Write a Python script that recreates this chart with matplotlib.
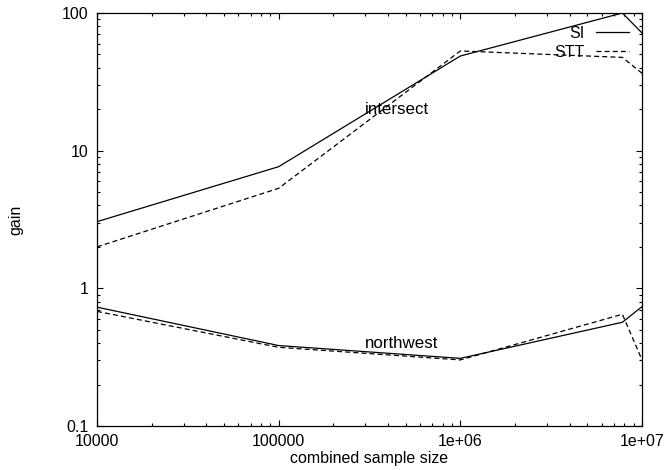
import matplotlib
matplotlib.use("Agg")
import matplotlib.pyplot as plt
from matplotlib.ticker import LogLocator, NullFormatter, FixedLocator, FixedFormatter

plt.rcParams['font.family'] = ['Liberation Sans', 'DejaVu Sans']

# combined sample sizes
sizes = [1e4, 1e5, 1e6, 7.8e6, 1e7]

# gain per query shape
intersect_si = [3.05, 7.65, 48.7, 100.0, 71.6]
intersect_stt = [2.0, 5.33, 53.0, 47.6, 36.5]
northwest_si = [0.73, 0.384, 0.31, 0.567, 0.736]
northwest_stt = [0.68, 0.373, 0.302, 0.648, 0.302]

xticks = [1e4, 1e5, 1e6, 1e7]
xticklabels = ['10000', '100000', '1e+06', '1e+07']
yticks = [0.1, 1, 10, 100]
yticklabels = ['0.1', '1', '10', '100']

fig = plt.figure(figsize=(6.65, 4.70), dpi=100)
ax = fig.add_axes([97 / 665, 1 - 426 / 470, 545 / 665, 413 / 470])

lw = 0.9
dash = (0, (4, 2.5))
ax.plot(sizes, intersect_si, color='black', lw=lw, label='SI')
ax.plot(sizes, intersect_stt, color='black', lw=lw, linestyle=dash, label='STT')
ax.plot(sizes, northwest_si, color='black', lw=lw)
ax.plot(sizes, northwest_stt, color='black', lw=lw, linestyle=dash)

ax.set_xscale('log')
ax.set_yscale('log')
ax.set_xlim(1e4, 1e7)
ax.set_ylim(0.1, 100)

ax.xaxis.set_major_locator(FixedLocator(xticks))
ax.xaxis.set_major_formatter(FixedFormatter(xticklabels))
ax.yaxis.set_major_locator(FixedLocator(yticks))
ax.yaxis.set_major_formatter(FixedFormatter(yticklabels))
for axis in (ax.xaxis, ax.yaxis):
    axis.set_minor_locator(LogLocator(base=10, subs=range(2, 10)))
    axis.set_minor_formatter(NullFormatter())

ax.tick_params(which='both', direction='in', top=True, right=True,
               width=0.8, labelsize=11.5, colors='black')
ax.tick_params(which='major', length=4.5)
ax.tick_params(which='minor', length=2.5)
ax.tick_params(axis='x', which='major', pad=6)
ax.tick_params(axis='y', which='major', pad=6)
for s in ax.spines.values():
    s.set_linewidth(0.9)

# curve group labels
ax.text(4.45e5, 20, 'intersect', fontsize=12.2, ha='center', va='center')
ax.text(4.75e5, 0.40, 'northwest', fontsize=12.2, ha='center', va='center')

ax.set_xlabel('combined sample size', fontsize=11.5, labelpad=1)
ax.set_ylabel('gain', fontsize=11.5, labelpad=28)

ax.legend(loc='upper right', frameon=False, markerfirst=False,
          fontsize=11.5, handlelength=2.1, handletextpad=0.7,
          labelspacing=0.25, borderaxespad=0.5, borderpad=0.3)

fig.savefig('out.png', dpi=100)
